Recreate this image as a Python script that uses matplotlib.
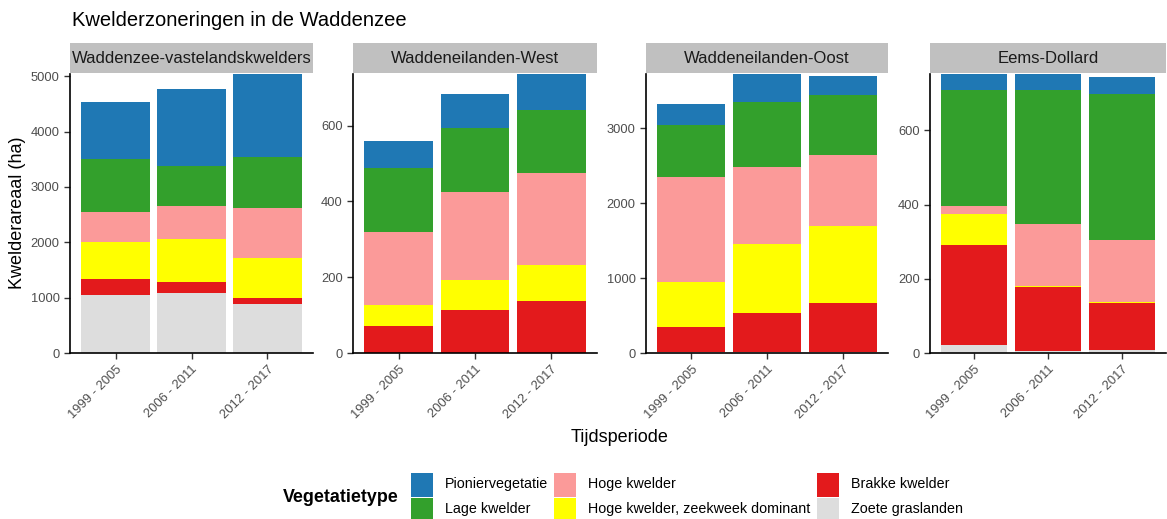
import numpy as np
import matplotlib
matplotlib.use("Agg")
import matplotlib.pyplot as plt
from matplotlib.patches import Rectangle

plt.rcParams["font.family"] = ["Liberation Sans", "DejaVu Sans"]

# ── data ─────────────────────────────────────────────────────────────────────
periods = ["1999 - 2005", "2006 - 2011", "2012 - 2017"]
regions = ["Waddenzee-vastelandskwelders", "Waddeneilanden-West",
           "Waddeneilanden-Oost", "Eems-Dollard"]
veg_types = ["Zoete graslanden", "Brakke kwelder", "Hoge kwelder, zeekweek dominant",
             "Hoge kwelder", "Lage kwelder", "Pioniervegetatie"]
veg_colors = ["#DDDDDD", "#E31A1C", "#FFFF00", "#FB9A99", "#33A02C", "#1F78B4"]

# area (ha) per vegetation type (bottom -> top), one list per period
vasteland = [[1045, 290, 664, 555, 942, 1039],
             [1075, 199, 785, 598, 725, 1395],
             [882, 114, 725, 900, 912, 1617]]
west      = [[0, 70, 56, 192, 169, 72],
             [0, 113, 79, 232, 169, 91],
             [0, 137, 95, 242, 166, 120]]
oost      = [[15, 337, 598, 1395, 691, 285],
             [15, 516, 918, 1034, 861, 456],
             [15, 649, 1035, 945, 802, 245]]
eems      = [[22, 270, 84, 19, 315, 70],
             [5, 173, 2, 167, 363, 70],
             [9, 127, 2, 166, 394, 45]]
region_data = [vasteland, west, oost, eems]

y_top   = [5040, 736, 3723, 752]
y_ticks = [[0, 1000, 2000, 3000, 4000, 5000], [0, 200, 400, 600],
           [0, 1000, 2000, 3000], [0, 200, 400, 600]]

# ── layout (pixels) ──────────────────────────────────────────────────────────
W, H = 1167, 519
panel_x = [(70, 313), (353, 597), (646, 888), (930, 1166)]
p_top, p_bot = 74, 353
s_top = 43
TXT = "#4D4D4D"

fig = plt.figure(figsize=(W / 100, H / 100), dpi=100)

x = np.arange(1, 4)
for i, (x0, x1) in enumerate(panel_x):
    ax = fig.add_axes([x0 / W, 1 - p_bot / H, (x1 - x0) / W, (p_bot - p_top) / H])
    vals = np.array(region_data[i])
    bottom = np.zeros(3)
    for k in range(len(veg_types)):
        ax.bar(x, vals[:, k], 0.9, bottom=bottom, color=veg_colors[k], linewidth=0)
        bottom += vals[:, k]
    ax.set_xlim(0.4, 3.6)
    ax.set_ylim(0, y_top[i])
    ax.set_yticks(y_ticks[i])
    ax.set_xticks(x)
    ax.set_xticklabels(periods, rotation=45, ha="right", va="top",
                       rotation_mode="anchor")
    ax.tick_params(labelsize=9.3, colors="#333333", labelcolor=TXT, length=4, width=1)
    for side in ("top", "right"):
        ax.spines[side].set_visible(False)
    for side in ("left", "bottom"):
        ax.spines[side].set_linewidth(1.2)
        ax.spines[side].set_color("black")

    # facet strip
    fig.patches.append(Rectangle((x0 / W, 1 - (p_top - 1) / H), (x1 - x0) / W,
                                 (p_top - 1 - s_top) / H, transform=fig.transFigure,
                                 facecolor="#C0C0C0", edgecolor="none"))
    fig.text((x0 + x1) / 2 / W, 1 - (s_top + p_top) / 2 / H, regions[i],
             ha="center", va="center", fontsize=12, color="#1A1A1A")

fig.text(72 / W, 1 - 20 / H, "Kwelderzoneringen in de Waddenzee",
         ha="left", va="center", fontsize=14.5, color="black")
fig.text(18 / W, 1 - 213 / H, "Kwelderareaal (ha)", ha="center", va="center",
         rotation=90, fontsize=13, color="black")
fig.text(620 / W, 1 - 437 / H, "Tijdsperiode", ha="center", va="center",
         fontsize=13, color="black")

# ── legend (column-wise, 2 rows) ─────────────────────────────────────────────
fig.text(283 / W, 1 - 498 / H, "Vegetatietype", ha="left", va="center",
         fontsize=12.9, fontweight="bold", color="black")
leg_order = [5, 4, 3, 2, 1, 0]
col_x = [411, 554, 817]
row_y = [(473, 497), (498, 522)]
for n, k in enumerate(leg_order):
    c, r = divmod(n, 2)
    ky0, ky1 = row_y[r]
    fig.patches.append(Rectangle((col_x[c] / W, 1 - ky1 / H), 22 / W, (ky1 - ky0) / H,
                                 transform=fig.transFigure, facecolor=veg_colors[k],
                                 edgecolor="none"))
    fig.text((col_x[c] + 34) / W, 1 - ((ky0 + ky1) / 2 - 1) / H, veg_types[k],
             ha="left", va="center", fontsize=10.3, color="black")

fig.savefig("out.png", dpi=100)
